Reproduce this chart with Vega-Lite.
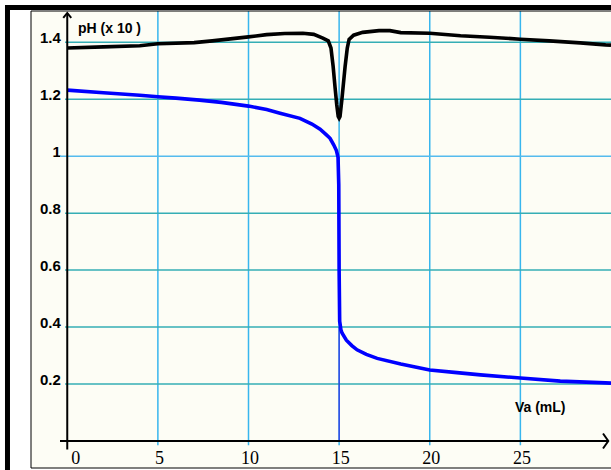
{
  "$schema": "https://vega.github.io/schema/vega-lite/v6.json",
  "width": 580,
  "height": 457,
  "autosize": "none",
  "padding": {"left": 31, "top": 11, "right": 0, "bottom": 2},
  "background": "#ffffff",
  "config": {
    "view": {"fill": "#fdfdf5", "stroke": null},
    "axis": {"grid": false, "domain": false, "ticks": false, "tickSize": 0, "title": null}
  },
  "data": {"values": [{"one": 1}]},
  "datasets": {
    "blue": [
      {"va": 0, "ph": 1.232}, {"va": 2, "ph": 1.223}, {"va": 4, "ph": 1.214}, {"va": 5, "ph": 1.209},
      {"va": 6, "ph": 1.204}, {"va": 7.3, "ph": 1.197}, {"va": 8.5, "ph": 1.189}, {"va": 10, "ph": 1.176},
      {"va": 11, "ph": 1.164}, {"va": 11.74, "ph": 1.151}, {"va": 12.84, "ph": 1.133}, {"va": 13.5, "ph": 1.113},
      {"va": 13.95, "ph": 1.095}, {"va": 14.3, "ph": 1.075}, {"va": 14.5, "ph": 1.063}, {"va": 14.7, "ph": 1.04},
      {"va": 14.85, "ph": 1.02}, {"va": 14.94, "ph": 0.996}, {"va": 14.98, "ph": 0.9}, {"va": 15.0, "ph": 0.6},
      {"va": 15.03, "ph": 0.42}, {"va": 15.1, "ph": 0.39}, {"va": 15.16, "ph": 0.379}, {"va": 15.4, "ph": 0.354},
      {"va": 15.7, "ph": 0.335}, {"va": 15.99, "ph": 0.32}, {"va": 16.5, "ph": 0.304}, {"va": 17.1, "ph": 0.29},
      {"va": 18.4, "ph": 0.27}, {"va": 20, "ph": 0.249}, {"va": 21.5, "ph": 0.24}, {"va": 22.8, "ph": 0.232},
      {"va": 25, "ph": 0.221}, {"va": 27.2, "ph": 0.21}, {"va": 29.7, "ph": 0.204}, {"va": 30, "ph": 0.203}
    ],
    "black": [
      {"va": 0, "ph": 1.380}, {"va": 2, "ph": 1.384}, {"va": 4, "ph": 1.388}, {"va": 5, "ph": 1.395},
      {"va": 7, "ph": 1.399}, {"va": 8, "ph": 1.405}, {"va": 9, "ph": 1.412}, {"va": 10, "ph": 1.419},
      {"va": 11, "ph": 1.427}, {"va": 12, "ph": 1.431}, {"va": 13, "ph": 1.432}, {"va": 13.6, "ph": 1.428},
      {"va": 14.1, "ph": 1.415}, {"va": 14.4, "ph": 1.405}, {"va": 14.55, "ph": 1.38}, {"va": 14.67, "ph": 1.315},
      {"va": 14.77, "ph": 1.245}, {"va": 14.87, "ph": 1.18}, {"va": 14.95, "ph": 1.14}, {"va": 15.0, "ph": 1.134},
      {"va": 15.05, "ph": 1.14}, {"va": 15.15, "ph": 1.198}, {"va": 15.33, "ph": 1.315}, {"va": 15.45, "ph": 1.38},
      {"va": 15.55, "ph": 1.41}, {"va": 15.8, "ph": 1.425}, {"va": 16.3, "ph": 1.435}, {"va": 17.2, "ph": 1.441},
      {"va": 17.8, "ph": 1.441}, {"va": 18.4, "ph": 1.434}, {"va": 20, "ph": 1.432}, {"va": 21.7, "ph": 1.423},
      {"va": 23.3, "ph": 1.418}, {"va": 25, "ph": 1.411}, {"va": 26.6, "ph": 1.405}, {"va": 28.3, "ph": 1.398},
      {"va": 29.7, "ph": 1.391}, {"va": 30, "ph": 1.390}
    ],
    "vgrid": [{"v": 5}, {"v": 10}, {"v": 15}, {"v": 20}, {"v": 25}],
    "hgrid": [{"v": 0.2}, {"v": 0.4}, {"v": 0.6}, {"v": 0.8}, {"v": 1.2}, {"v": 1.4}]
  },
  "layer": [
    {
      "data": {"name": "vgrid"},
      "mark": {"type": "rule", "color": "#38b6ee", "strokeWidth": 1.5},
      "encoding": {
        "x": {"field": "v", "type": "quantitative", "title": null,
              "scale": {"domain": [-2, 30], "nice": false, "zero": false},
              "axis": {"orient": "bottom", "offset": -27, "values": [0, 5, 10, 15, 20, 25],
                       "labelFont": "Liberation Serif", "labelFontSize": 18, "labelColor": "#000000",
                       "labelBaseline": "alphabetic", "labelPadding": 22, "labelAlign": "center",
                       "labelOffset": {"condition": {"test": "datum.value === 0", "value": 8}, "value": 1},
                       "labelFlush": false, "labelOverlap": false, "labelBound": false}},
        "y": {"datum": -0.015, "type": "quantitative",
              "scale": {"domain": [-0.095, 1.51], "nice": false, "zero": false},
              "axis": {"orient": "left", "offset": -36.25, "values": [0.2, 0.4, 0.6, 0.8, 1, 1.2, 1.4],
                       "format": "~g", "labelFont": "Liberation Sans", "labelFontWeight": "bold",
                       "labelFontSize": 15, "labelColor": "#000000", "labelBaseline": "alphabetic",
                       "labelAlign": "right", "labelPadding": 7, "labelOverlap": false, "labelBound": false}},
        "y2": {"datum": 1.51}
      }
    },
    {
      "data": {"name": "hgrid"},
      "mark": {"type": "rule", "color": "#35aeb5", "strokeWidth": 1.5},
      "encoding": {
        "y": {"field": "v", "type": "quantitative", "title": null},
        "x": {"datum": -0.12, "type": "quantitative"},
        "x2": {"datum": 30}
      }
    },
    {
      "mark": {"type": "rule", "color": "#55bbee", "strokeWidth": 1.5},
      "encoding": {
        "y": {"datum": 1, "type": "quantitative"},
        "x": {"datum": -0.4, "type": "quantitative"},
        "x2": {"datum": 30}
      }
    },
    {
      "mark": {"type": "rule", "color": "#2a2ae0", "strokeWidth": 1.2},
      "encoding": {
        "x": {"datum": 15, "type": "quantitative"},
        "y": {"datum": 0, "type": "quantitative"},
        "y2": {"datum": 0.4}
      }
    },
    {
      "data": {"name": "blue"},
      "mark": {"type": "line", "color": "#0000ff", "strokeWidth": 3.6},
      "encoding": {
        "x": {"field": "va", "type": "quantitative", "title": null},
        "y": {"field": "ph", "type": "quantitative", "title": null}
      }
    },
    {
      "data": {"name": "black"},
      "mark": {"type": "line", "color": "#000000", "strokeWidth": 3.6},
      "encoding": {
        "x": {"field": "va", "type": "quantitative", "title": null},
        "y": {"field": "ph", "type": "quantitative", "title": null}
      }
    },
    {
      "mark": {"type": "rule", "color": "#000000", "strokeWidth": 2},
      "encoding": {
        "x": {"datum": 0, "type": "quantitative"},
        "y": {"datum": -0.03, "type": "quantitative"},
        "y2": {"datum": 1.503}
      }
    },
    {
      "mark": {"type": "rule", "color": "#000000", "strokeWidth": 2},
      "encoding": {
        "y": {"datum": 0, "type": "quantitative"},
        "x": {"datum": -0.4, "type": "quantitative"},
        "x2": {"datum": 29.85}
      }
    },
    {
      "mark": {"type": "point", "shape": "M-0.8,1L0,0L0.8,1", "size": 100, "filled": false,
               "stroke": "#000000", "strokeWidth": 2, "opacity": 1},
      "encoding": {
        "x": {"datum": 0, "type": "quantitative"},
        "y": {"datum": 1.503, "type": "quantitative"}
      }
    },
    {
      "mark": {"type": "point", "shape": "M-0.7,-1L0,0L-0.7,1", "size": 225, "filled": false,
               "stroke": "#000000", "strokeWidth": 2, "opacity": 1},
      "encoding": {
        "x": {"datum": 29.85, "type": "quantitative"},
        "y": {"datum": 0, "type": "quantitative"}
      }
    },
    {
      "mark": {"type": "text", "text": "pH (x 10 )", "font": "Liberation Sans", "fontWeight": "bold",
               "fontSize": 14, "align": "left", "baseline": "alphabetic", "color": "#000000"},
      "encoding": {
        "x": {"datum": 0.593, "type": "quantitative"},
        "y": {"datum": 1.4327, "type": "quantitative"}
      }
    },
    {
      "mark": {"type": "text", "text": "Va (mL)", "font": "Liberation Sans", "fontWeight": "bold",
               "fontSize": 14, "align": "left", "baseline": "alphabetic", "color": "#000000"},
      "encoding": {
        "x": {"datum": 24.7, "type": "quantitative"},
        "y": {"datum": 0.1015, "type": "quantitative"}
      }
    },
    {
      "mark": {"type": "rule", "color": "#000000", "strokeWidth": 1},
      "encoding": {
        "x": {"datum": -2, "type": "quantitative"},
        "y": {"datum": -0.095, "type": "quantitative"},
        "y2": {"datum": 1.51}
      }
    },
    {
      "mark": {"type": "rule", "color": "#000000", "strokeWidth": 1},
      "encoding": {
        "y": {"datum": 1.51, "type": "quantitative"},
        "x": {"datum": -2, "type": "quantitative"},
        "x2": {"datum": 30.2}
      }
    },
    {
      "mark": {"type": "rule", "color": "#000000", "strokeWidth": 1},
      "encoding": {
        "y": {"datum": -0.095, "type": "quantitative"},
        "x": {"datum": -2, "type": "quantitative"},
        "x2": {"datum": 30.2}
      }
    },
    {
      "mark": {"type": "rule", "color": "#000000", "strokeWidth": 5},
      "encoding": {
        "x": {"datum": -3.297, "type": "quantitative"},
        "y": {"datum": -0.11, "type": "quantitative"},
        "y2": {"datum": 1.531}
      }
    },
    {
      "mark": {"type": "rule", "color": "#000000", "strokeWidth": 5},
      "encoding": {
        "y": {"datum": 1.5223, "type": "quantitative"},
        "x": {"datum": -3.43, "type": "quantitative"},
        "x2": {"datum": 30.3}
      }
    }
  ]
}
